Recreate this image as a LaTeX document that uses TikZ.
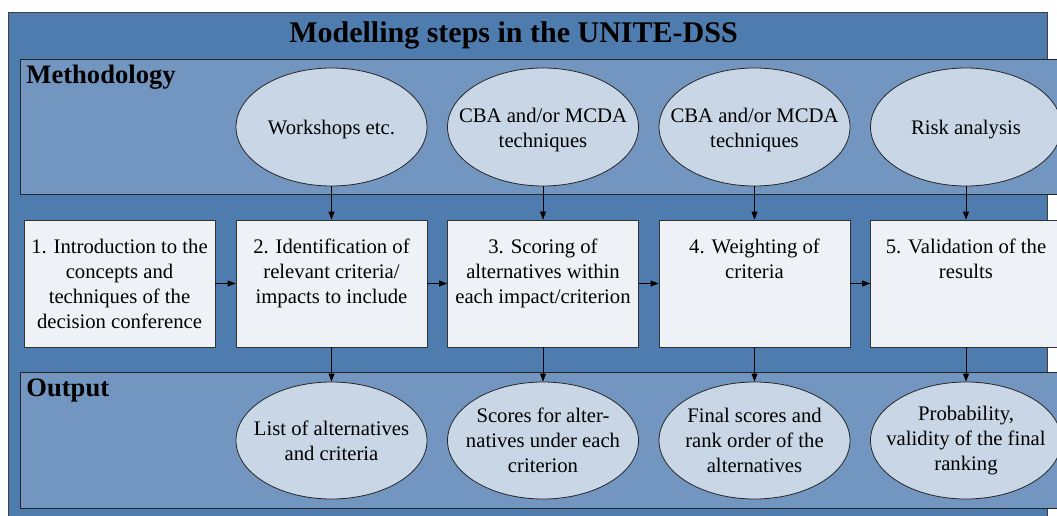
\documentclass[tikz,border=0pt]{standalone}
\usepackage{fontspec}
\setmainfont{Liberation Serif}
\usepackage{tikz}
\usetikzlibrary{positioning,arrows.meta,shapes.geometric}

\definecolor{outerblue}{RGB}{79,124,175}
\definecolor{panelblue}{RGB}{115,150,193}
\definecolor{ellfill}{RGB}{200,214,230}
\definecolor{boxfill}{RGB}{238,241,246}

\begin{document}
\begin{tikzpicture}[x=1pt,y=-1pt,line width=0.8pt,
	every node/.style={font=\fontsize{20.7}{25}\selectfont},
	stepbox/.style={draw=black!80,fill=boxfill,minimum width=191pt,minimum height=127pt,inner sep=0pt},
	steptext/.style={anchor=north,yshift=-19pt,inner sep=0pt,align=center},
	ell/.style={ellipse,draw=black!85,fill=ellfill,minimum width=191pt,minimum height=118pt,inner sep=0pt},
	elltext/.style={anchor=center,inner sep=0pt,align=center},
	arr/.style={-{Triangle[length=8pt,width=6pt]},black}]

			\clip (0,0) rectangle (1057,516);

			%frames
			\draw[draw=black!75,fill=outerblue] (8,12) rectangle (1047,540);
			\draw[draw=black!85,fill=panelblue] (20,59) rectangle (1090,194);
			\draw[draw=black!85,fill=panelblue] (20,372) rectangle (1090,508);

			%headings
			\node [anchor=base,font=\fontsize{30}{36}\selectfont\bfseries] (title) at (513.5,42.7) {Modelling steps in the UNITE-DSS};
			\node [anchor=base west,inner sep=0pt,font=\fontsize{26.6}{32}\selectfont\bfseries] (meth) at (26,83.3) {Methodology};
			\node [anchor=base west,inner sep=0pt,font=\fontsize{26.6}{32}\selectfont\bfseries] (outp) at (26,396.7) {Output};

			%methodology nodes
			\node [ell,label={[elltext,yshift=-3pt]center:{Workshops etc.}}] (m2) at (331.5,127) {};
			\node [ell,label={[elltext,yshift=-3pt]center:{CBA and/or MCDA\\techniques}}] (m3) at (543,127) {};
			\node [ell,label={[elltext,yshift=-3pt]center:{CBA and/or MCDA\\techniques}}] (m4) at (754.5,127) {};
			\node [ell,label={[elltext,yshift=-3pt]center:{Risk analysis}}] (m5) at (966,127) {};

			%step nodes
			\node [stepbox,label={[steptext]north:{1. Introduction to the\\concepts and\\techniques of the\\decision conference}}] (s1) at (119.5,283.5) {};
			\node [stepbox,label={[steptext]north:{2. Identification of\\relevant criteria/\\impacts to include}}] (s2) at (331.5,283.5) {};
			\node [stepbox,label={[steptext]north:{3. Scoring of\\alternatives within\\each impact/criterion}}] (s3) at (543,283.5) {};
			\node [stepbox,label={[steptext]north:{4. Weighting of\\criteria}}] (s4) at (754.5,283.5) {};
			\node [stepbox,label={[steptext]north:{5. Validation of the\\results}}] (s5) at (966,283.5) {};

			%output nodes
			\node [ell,minimum height=117pt,label={[elltext]center:{List of alternatives\\and criteria}}] (o2) at (331.5,440.5) {};
			\node [ell,minimum height=117pt,label={[elltext]center:{Scores for alter-\\natives under each\\criterion}}] (o3) at (543,440.5) {};
			\node [ell,minimum height=117pt,label={[elltext]center:{Final scores and\\rank order of the\\alternatives}}] (o4) at (754.5,440.5) {};
			\node [ell,minimum height=117pt,label={[elltext]center:{Probability,\\validity of the final\\ranking}}] (o5) at (966,440.5) {};

			%edges
			\draw[arr] (s1) -- (s2);
			\draw[arr] (s2) -- (s3);
			\draw[arr] (s3) -- (s4);
			\draw[arr] (s4) -- (s5);
			\draw[arr] (m2) -- (s2);
			\draw[arr] (m3) -- (s3);
			\draw[arr] (m4) -- (s4);
			\draw[arr] (m5) -- (s5);
			\draw[arr] (s2) -- (o2);
			\draw[arr] (s3) -- (o3);
			\draw[arr] (s4) -- (o4);
			\draw[arr] (s5) -- (o5);
		\end{tikzpicture}
\end{document}
